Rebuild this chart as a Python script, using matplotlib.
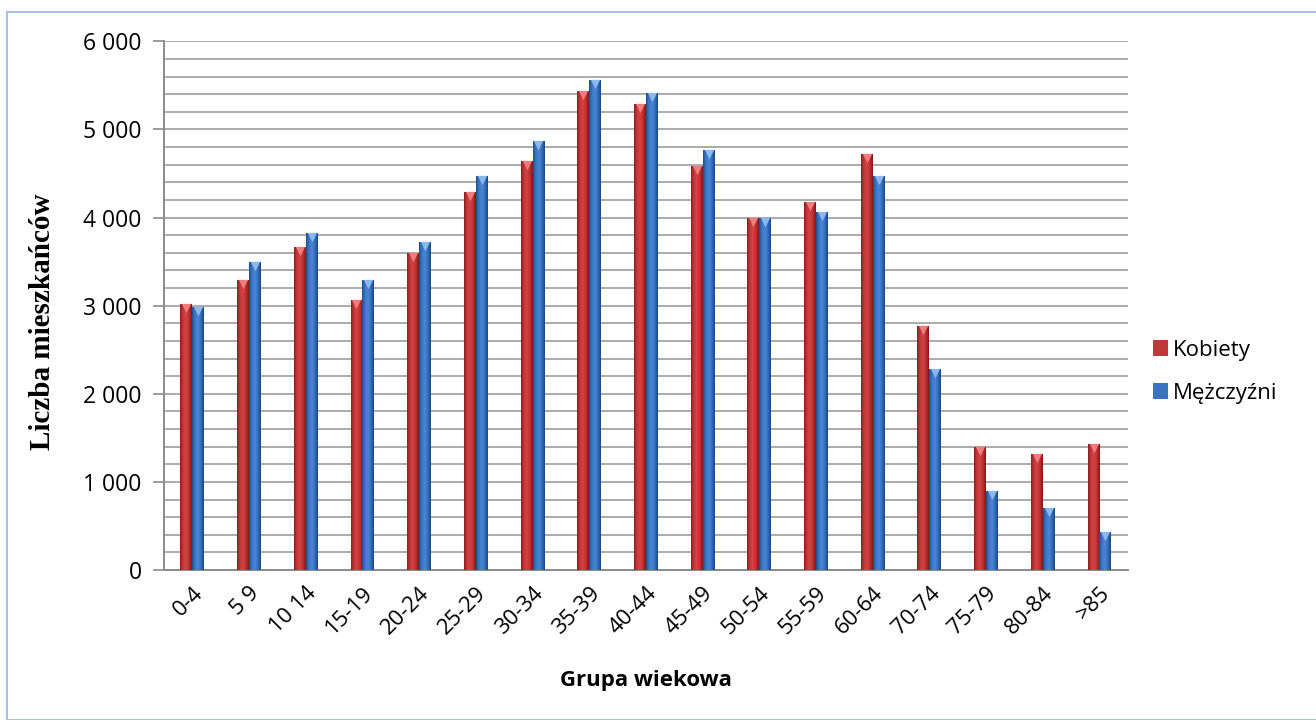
import numpy as np
import matplotlib.pyplot as plt
from matplotlib.patches import Rectangle
from matplotlib.colors import LinearSegmentedColormap

# Age groups and counts
groups = ['0-4', '5 9', '10 14', '15-19', '20-24', '25-29', '30-34', '35-39', '40-44',
          '45-49', '50-54', '55-59', '60-64', '70-74', '75-79', '80-84', '>85']
kobiety = [3015, 3290, 3665, 3060, 3600, 4290, 4640, 5435, 5290,
           4585, 3995, 4180, 4720, 2770, 1395, 1320, 1430]
mezczyzni = [2980, 3495, 3825, 3290, 3720, 4470, 4865, 5560, 5415,
             4770, 3995, 4065, 4470, 2280, 900, 705, 430]

red_cmap = LinearSegmentedColormap.from_list('r', ['#8c1c1c', '#c8383a', '#d04444', '#c03030', '#7e1818'])
blue_cmap = LinearSegmentedColormap.from_list('b', ['#1f4f8c', '#3a78c8', '#4a86d2', '#336fbb', '#1c4780'])

fig = plt.figure(figsize=(13.16, 7.2), dpi=100)
ax = fig.add_axes([0.1246, 0.2083, 0.7324, 0.7343])

x = np.arange(len(groups))
w = 0.21
grad = np.linspace(0, 1, 64).reshape(1, -1)


def draw_bars(xs, vals, cmap, top_color, label, sq_color):
    bars = ax.bar(xs, vals, width=w, color=sq_color, zorder=3, label=label)
    for b in bars:
        x0, h = b.get_x(), b.get_height()
        im = ax.imshow(grad, cmap=cmap, aspect='auto', extent=(x0, x0 + w, 0, h), zorder=3.5)
        im.set_clip_path(b)
    ax.scatter(xs, np.array(vals) - 45, marker='v', s=45, color=top_color, zorder=4, linewidths=0)


draw_bars(x - w / 2, kobiety, red_cmap, '#ee7d7d', 'Kobiety', '#c0393a')
draw_bars(x + w / 2, mezczyzni, blue_cmap, '#8db8ec', 'Mężczyźni', '#3a74bf')

ax.set_xlim(-0.5, len(groups) - 0.5)
ax.set_ylim(0, 6000)
ax.set_yticks(np.arange(0, 6001, 1000))
ax.set_yticks(np.arange(0, 6001, 200), minor=True)
ax.set_yticklabels([f'{v:,}'.replace(',', ' ') for v in range(0, 6001, 1000)],
                   fontsize=16.5, family='Open Sans')
ax.tick_params(axis='y', which='major', length=8, color='#8c8c8c', width=1.2, pad=8)
ax.tick_params(axis='y', which='minor', length=0)
ax.grid(axis='y', which='both', color='#ababab', linewidth=1.4, zorder=0)
ax.set_axisbelow(True)

ax.set_xticks(x)
ax.set_xticklabels(groups, rotation=45, ha='right', rotation_mode='anchor',
                   fontsize=16, family='Open Sans')
ax.tick_params(axis='x', length=0, pad=9)

for s in ['top', 'right']:
    ax.spines[s].set_visible(False)
ax.spines['left'].set_color('#8c8c8c')
ax.spines['bottom'].set_color('#8c8c8c')
ax.spines['left'].set_linewidth(1.4)
ax.spines['bottom'].set_linewidth(1.4)

ax.set_xlabel('Grupa wiekowa', fontsize=16, fontweight='bold', family='Open Sans')
ax.xaxis.set_label_coords(0.5, -0.19)
ax.set_ylabel('Liczba mieszkańców', fontsize=21, fontweight='bold', family='Liberation Serif')
ax.yaxis.set_label_coords(-0.112, 0.47)

leg = ax.legend(loc='center left', bbox_to_anchor=(1.005, 0.375), frameon=False,
                prop={'family': 'Open Sans', 'size': 16}, handlelength=0.7, handleheight=0.7,
                handletextpad=0.2, labelspacing=1.0)

# chart area border
fig.patches.append(Rectangle((7 / 1316, 0.0), 1.2, 1 - 12 / 720, transform=fig.transFigure,
                             fill=False, edgecolor='#a9c1e6', linewidth=1.5))

fig.savefig('out.png', dpi=100)
